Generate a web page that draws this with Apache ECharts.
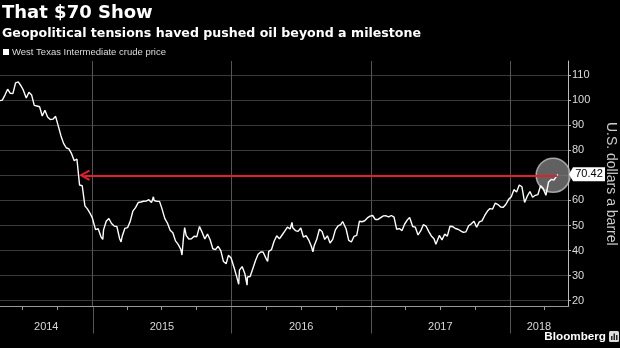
<!DOCTYPE html>
<html><head><meta charset="utf-8">
<script src="https://cdn.jsdelivr.net/npm/echarts@6/dist/echarts.min.js"></script>
<style>html,body{margin:0;padding:0;background:#000;}#c{width:620px;height:348px;}</style>
</head><body><div id="c"></div>
<script>
const titleText = 'That $70 Show';
const subtitleText = 'Geopolitical tensions haved pushed oil beyond a milestone';
const seriesName = 'West Texas Intermediate crude price';
const yAxisName = 'U.S. dollars a barrel';
const yearLabels = ['2014', '2015', '2016', '2017', '2018'];
const lastValueLabel = '70.42';
const lastValue = 70.42;
const arrowLevel = 70;
const arrowStart = '2018-05-06';
const arrowEnd = '2014-12-11';
const circleAt = ['2018-04-25', 70];

const dates = [
'2014-05-02','2014-05-09','2014-05-16','2014-05-23','2014-05-30','2014-06-06','2014-06-13','2014-06-20','2014-06-27','2014-07-03','2014-07-11','2014-07-18','2014-07-25','2014-08-01','2014-08-08','2014-08-15','2014-08-22','2014-08-29','2014-09-05','2014-09-12','2014-09-19','2014-09-26','2014-10-03','2014-10-10','2014-10-17','2014-10-24','2014-10-31','2014-11-07','2014-11-14','2014-11-21','2014-11-28','2014-12-05','2014-12-12','2014-12-19','2014-12-26','2014-12-31',
'2015-01-09','2015-01-16','2015-01-23','2015-01-28','2015-01-30','2015-02-06','2015-02-13','2015-02-20','2015-02-27','2015-03-06','2015-03-13','2015-03-17','2015-03-20','2015-03-27','2015-04-03','2015-04-10','2015-04-17','2015-04-24','2015-05-01','2015-05-08','2015-05-15','2015-05-22','2015-05-29','2015-06-05','2015-06-10','2015-06-12','2015-06-19','2015-06-26','2015-07-02','2015-07-10','2015-07-17','2015-07-24','2015-07-31','2015-08-07','2015-08-14','2015-08-21','2015-08-24','2015-08-28','2015-08-31','2015-09-04','2015-09-11','2015-09-18','2015-09-25','2015-10-02','2015-10-09','2015-10-16','2015-10-23','2015-10-30','2015-11-06','2015-11-13','2015-11-20','2015-11-27','2015-12-04','2015-12-11','2015-12-18','2015-12-21','2015-12-24','2015-12-31',
'2016-01-08','2016-01-15','2016-01-20','2016-01-22','2016-01-29','2016-02-05','2016-02-11','2016-02-12','2016-02-19','2016-02-26','2016-03-04','2016-03-11','2016-03-18','2016-03-24','2016-04-01','2016-04-05','2016-04-08','2016-04-15','2016-04-22','2016-04-29','2016-05-06','2016-05-13','2016-05-20','2016-05-27','2016-06-03','2016-06-08','2016-06-10','2016-06-17','2016-06-24','2016-07-01','2016-07-08','2016-07-15','2016-07-22','2016-07-29','2016-08-02','2016-08-05','2016-08-12','2016-08-19','2016-08-26','2016-09-02','2016-09-09','2016-09-16','2016-09-23','2016-09-30','2016-10-07','2016-10-14','2016-10-19','2016-10-21','2016-10-28','2016-11-04','2016-11-11','2016-11-14','2016-11-18','2016-11-25','2016-12-02','2016-12-09','2016-12-16','2016-12-23','2016-12-30',
'2017-01-06','2017-01-13','2017-01-20','2017-01-27','2017-02-03','2017-02-10','2017-02-17','2017-02-24','2017-03-03','2017-03-10','2017-03-17','2017-03-24','2017-03-31','2017-04-07','2017-04-13','2017-04-21','2017-04-28','2017-05-05','2017-05-12','2017-05-19','2017-05-26','2017-06-02','2017-06-09','2017-06-16','2017-06-21','2017-06-23','2017-06-30','2017-07-07','2017-07-14','2017-07-21','2017-07-28','2017-08-04','2017-08-11','2017-08-18','2017-08-25','2017-09-01','2017-09-08','2017-09-15','2017-09-22','2017-09-29','2017-10-06','2017-10-13','2017-10-20','2017-10-27','2017-11-03','2017-11-10','2017-11-17','2017-11-24','2017-12-01','2017-12-08','2017-12-15','2017-12-22','2017-12-29',
'2018-01-05','2018-01-12','2018-01-19','2018-01-26','2018-02-02','2018-02-09','2018-02-16','2018-02-23','2018-03-02','2018-03-09','2018-03-16','2018-03-23','2018-03-29','2018-04-06','2018-04-13','2018-04-20','2018-04-27','2018-05-04','2018-05-07'
];
const prices = [
99.76,99.99,102.02,104.35,102.71,102.66,106.91,107.26,105.74,104.06,100.83,103.13,102.09,97.88,97.65,97.35,93.65,95.96,93.29,92.27,92.41,93.54,89.74,85.82,82.75,81.01,80.54,78.65,75.82,76.51,66.15,65.84,57.81,56.52,54.73,53.27,
48.36,48.69,45.59,44.45,48.24,51.69,52.78,50.81,49.76,49.61,44.84,43.46,45.72,48.87,49.14,51.64,55.74,57.15,59.15,59.39,59.69,59.72,60.30,59.13,61.43,59.96,59.61,59.63,56.93,52.74,50.89,48.14,47.12,43.87,42.50,40.45,38.24,45.22,49.20,46.05,44.63,44.68,45.70,45.54,49.63,47.26,44.60,46.59,44.29,40.74,40.39,41.71,39.97,35.62,34.73,34.74,38.10,37.04,
33.16,29.42,26.55,32.19,33.62,30.89,26.21,29.44,29.64,32.78,35.92,38.50,39.44,39.46,36.79,35.70,39.72,40.36,43.73,45.92,44.66,46.21,47.75,49.33,48.62,51.23,49.07,47.98,47.64,48.99,45.41,45.95,44.19,41.60,39.51,41.80,44.49,48.52,47.64,44.44,45.88,43.03,44.48,48.24,49.81,50.35,51.60,50.85,48.70,44.07,43.41,43.32,45.69,46.06,51.68,51.50,51.90,53.02,53.72,
53.99,52.37,52.42,53.17,53.83,53.86,53.40,53.99,53.33,48.49,48.78,47.97,50.60,52.24,53.18,49.62,49.33,46.22,47.84,50.33,49.80,47.66,45.83,44.74,42.53,43.01,46.04,44.23,46.54,45.77,49.71,49.58,48.82,48.51,47.87,47.29,47.48,49.89,50.66,51.67,49.29,51.45,51.84,53.90,55.64,56.74,56.55,58.95,58.36,57.36,57.30,58.47,60.42,
61.44,64.30,63.37,66.14,65.45,59.20,61.68,63.55,61.25,62.04,62.34,65.88,64.94,62.06,67.39,68.38,68.10,69.72,70.42
];

const xMin = '2014-05-03';
const xMax = '2018-06-03';
const yearMs = 365.25 * 24 * 3600 * 1000;
const seriesData = dates.map((d, i) => [d, prices[i]]);

const chart = echarts.init(document.getElementById('c'), null, {renderer: 'canvas'});
const arrowPath = 'path://M0,9 L5,0 L10,9 L8.4,10 L5,3.6 L1.6,10 Z';

chart.setOption({
  backgroundColor: '#000',
  animation: false,
  title: {
    text: titleText, subtext: subtitleText, left: 2, top: 4, padding: 0, itemGap: 5,
    textStyle: {color: '#fff', fontFamily: 'DejaVu Sans', fontWeight: 'bold', fontSize: 18},
    subtextStyle: {color: '#fff', fontFamily: 'DejaVu Sans', fontWeight: 'bold', fontSize: 12.6}
  },
  legend: {
    left: 3, top: 47, padding: 0, itemWidth: 6, itemHeight: 6, icon: 'rect', selectedMode: false,
    textStyle: {color: '#ddd', fontSize: 9.5, fontFamily: 'Liberation Sans', padding: [0, 0, 0, -2]},
    data: [{name: seriesName, itemStyle: {color: '#fff'}}]
  },
  grid: {left: 0, right: 52, top: 61, bottom: 41.5, containLabel: false, outerBoundsMode: 'none'},
  xAxis: {
    type: 'time', min: xMin, max: xMax, minInterval: yearMs, maxInterval: yearMs,
    axisLine: {show: true, lineStyle: {color: '#9a9a9a', width: 1}},
    axisTick: {show: false},
    axisLabel: {show: false},
    splitLine: {show: true, showMinLine: false, showMaxLine: false, lineStyle: {color: '#555', width: 1}}
  },
  yAxis: {
    type: 'value', position: 'right', min: 17.7, max: 115.6, splitNumber: 10,
    name: yAxisName, nameLocation: 'middle', nameRotate: -90, nameGap: 36,
    nameTextStyle: {color: '#ccc', fontSize: 14, fontFamily: 'Liberation Sans'},
    axisLine: {show: true, lineStyle: {color: '#bbb'}},
    axisTick: {show: true, length: 3, lineStyle: {color: '#bbb'}},
    axisLabel: {color: '#ddd', fontSize: 11, margin: 4, fontFamily: 'Liberation Sans', showMinLabel: false, showMaxLabel: false},
    splitLine: {show: true, showMinLine: false, showMaxLine: false, lineStyle: {color: '#3a3a3a'}}
  },
  series: [
    {
      type: 'scatter', data: [circleAt], symbolSize: 34, silent: true, z: 1,
      itemStyle: {color: 'rgba(128,128,128,0.95)', borderColor: '#c4c4c4', borderWidth: 1.5}
    },
    {
      name: seriesName, type: 'line', data: seriesData, showSymbol: false, symbol: 'none', z: 3,
      lineStyle: {color: '#fff', width: 1.4}, itemStyle: {color: '#fff'},
      markLine: {
        silent: true, symbol: [arrowPath, 'none'], symbolSize: [11, 11],
        label: {show: false},
        lineStyle: {color: '#e3202a', width: 2, type: 'solid'},
        data: [[{coord: [arrowEnd, arrowLevel]}, {coord: [arrowStart, arrowLevel]}]]
      }
    }
  ]
});

// Positions of annotations through the axes' own scales
const ts = s => +echarts.time.parse(s);
const minTs = ts(xMin), maxTs = ts(xMax);
const axisY = chart.convertToPixel({yAxisIndex: 0}, 17.7);
const graphics = [];
yearLabels.forEach(y => {
  const start = ts(y + '-01-01');
  if (start > minTs && start < maxTs) {
    const dx = Math.round(chart.convertToPixel({xAxisIndex: 0}, start)) + 0.5;
    graphics.push({type: 'line', shape: {x1: dx, y1: axisY, x2: dx, y2: axisY + 27}, style: {stroke: '#555', lineWidth: 1}});
  }
  const a = Math.max(start, minTs);
  const b = Math.min(ts((+y + 1) + '-01-01'), maxTs);
  const px = chart.convertToPixel({xAxisIndex: 0}, (a + b) / 2);
  graphics.push({type: 'text', x: px, y: 327, style: {text: y, fill: '#d8d8d8', font: '11px "Liberation Sans"', textAlign: 'center', textVerticalAlign: 'middle'}});
  ['-04-01', '-07-01', '-10-01'].forEach(m => {
    const t = ts(y + m);
    if (t > minTs && t < maxTs) {
      const qx = Math.round(chart.convertToPixel({xAxisIndex: 0}, t)) + 0.5;
      graphics.push({type: 'line', shape: {x1: qx, y1: axisY + 0.5, x2: qx, y2: axisY + 3.5}, style: {stroke: '#999', lineWidth: 1}});
    }
  });
});
const tagY = chart.convertToPixel({yAxisIndex: 0}, lastValue);
const ax = 569;
graphics.push({
  type: 'polygon', shape: {points: [[ax, tagY], [ax + 4, tagY - 7], [ax + 36, tagY - 7], [ax + 36, tagY + 7], [ax + 4, tagY + 7]]},
  style: {fill: '#fff'}, z: 10
});
graphics.push({type: 'text', x: ax + 20, y: tagY, style: {text: lastValueLabel, fill: '#000', font: '11px "Liberation Sans"', textAlign: 'center', textVerticalAlign: 'middle'}, z: 11});
graphics.push({type: 'text', x: 606, y: 337, style: {text: 'Bloomberg', fill: '#fff', font: 'bold 11.7px "Liberation Sans"', textAlign: 'right', textVerticalAlign: 'middle'}});
graphics.push({type: 'rect', shape: {x: 609, y: 331, width: 10, height: 11, r: 1.5}, style: {fill: '#ddd'}});
graphics.push({type: 'rect', shape: {x: 611, y: 336, width: 1.5, height: 4}, style: {fill: '#222'}});
graphics.push({type: 'rect', shape: {x: 613.5, y: 333.5, width: 1.5, height: 6.5}, style: {fill: '#222'}});
graphics.push({type: 'rect', shape: {x: 616, y: 335, width: 1.5, height: 5}, style: {fill: '#222'}});
chart.setOption({graphic: graphics});
</script>
</body></html>
